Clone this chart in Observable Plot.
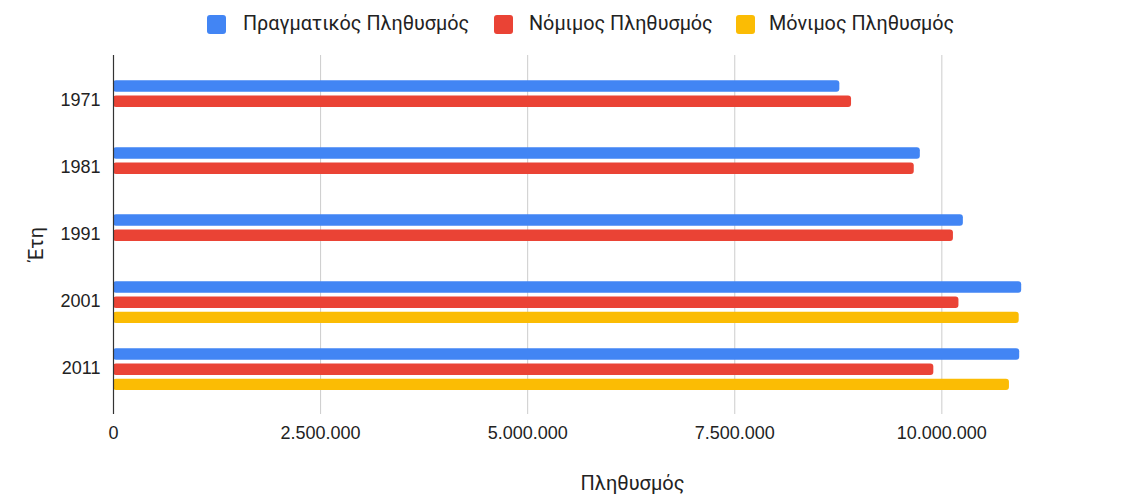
<!DOCTYPE html>
<html>
<head>
<meta charset="utf-8">
<script src="https://cdn.jsdelivr.net/npm/d3@7"></script>
<script src="https://cdn.jsdelivr.net/npm/@observablehq/plot@0.6"></script>
<style>
  html, body { margin: 0; padding: 0; background: #fff; }
  #wrap { position: relative; width: 1137px; height: 494px; }
  .sw { position: absolute; top: 15px; width: 19px; height: 19px; border-radius: 3px; }
  .lt { position: absolute; top: 12px; font-family: Roboto, "Noto Sans", sans-serif; font-size: 19.8px; color: #222; line-height: 24px; white-space: nowrap; }
</style>
</head>
<body>
<div id="wrap"></div>
<script>
const years = ["1971", "1981", "1991", "2001", "2011"];
const seriesNames = ["Πραγματικός Πληθυσμός", "Νόμιμος Πληθυσμός", "Μόνιμος Πληθυσμός"];
const deFacto  = [8768641, 9740417, 10259900, 10964020, 10940000];
const legal    = [8910000, 9667000, 10140000, 10206539, 9903268];
const resident = [null, null, null, 10934097, 10816286];
const colors = ["#4285F4", "#EA4335", "#FBBC04"];
const xTicks = [0, 2500000, 5000000, 7500000, 10000000];
const xTitle = "Πληθυσμός";
const yTitle = "Έτη";

const rows = arr => years.map((y, i) => ({year: y, value: arr[i]})).filter(d => d.value != null);
const fmt = d => d3.format(",")(d).replace(/,/g, ".");

const chart = Plot.plot({
  width: 1137,
  height: 494,
  marginTop: 55,
  marginBottom: 80,
  marginLeft: 113,
  marginRight: 30,
  style: {fontFamily: "'Liberation Sans', Arial, sans-serif", fontSize: "18px", color: "#222", background: "white"},
  x: {domain: [0, 12000000]},
  y: {domain: years, padding: 0, insetTop: 12, insetBottom: 10.4},
  marks: [
    Plot.ruleX(xTicks.slice(1), {stroke: "#cccccc", strokeWidth: 1}),
    Plot.barX(rows(deFacto), {x: "value", y: "year", fill: colors[0], insetTop: 12.3, insetBottom: 43.3, rx: 3}),
    Plot.barX(rows(legal), {x: "value", y: "year", fill: colors[1], insetTop: 27.5, insetBottom: 28.1, rx: 3}),
    Plot.barX(rows(resident), {x: "value", y: "year", fill: colors[2], insetTop: 42.7, insetBottom: 12.9, rx: 3}),
    Plot.ruleX([0], {stroke: "#333333", strokeWidth: 1.2}),
    Plot.axisX({ticks: xTicks, tickSize: 0, tickPadding: 12, tickFormat: fmt, label: null, fill: "#222"}),
    Plot.axisY({tickSize: 0, tickPadding: 13, label: null, fill: "#222", dy: -1.5}),
    Plot.text([xTitle], {frameAnchor: "bottom", dx: 22, dy: 75, fill: "#222", fontSize: 20, fontFamily: "Roboto, sans-serif"}),
    Plot.text([yTitle], {frameAnchor: "left", rotate: -90, dx: -77, dy: 26, fill: "#222", fontSize: 20, fontFamily: "Roboto, sans-serif"})
  ]
});

const wrap = document.getElementById("wrap");
wrap.appendChild(chart);

const legendPos = [
  {sw: 207, tx: 243},
  {sw: 494, tx: 529},
  {sw: 736, tx: 769}
];
seriesNames.forEach((name, i) => {
  const sw = document.createElement("div");
  sw.className = "sw";
  sw.style.left = legendPos[i].sw + "px";
  sw.style.background = colors[i];
  wrap.appendChild(sw);
  const t = document.createElement("div");
  t.className = "lt";
  t.style.left = legendPos[i].tx + "px";
  t.textContent = name;
  wrap.appendChild(t);
});
chart.style.position = "absolute";
chart.style.left = "0";
chart.style.top = "0";
</script>
</body>
</html>
